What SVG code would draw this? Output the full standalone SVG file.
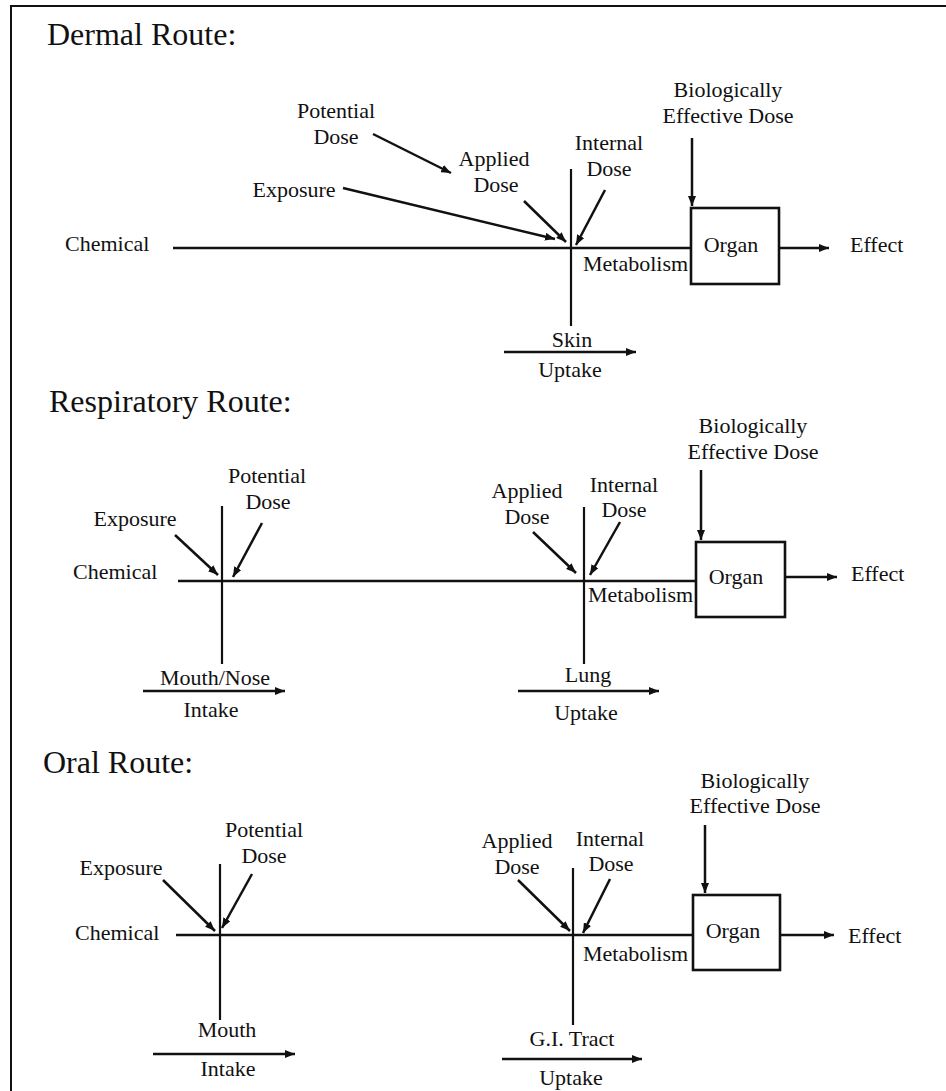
<svg xmlns="http://www.w3.org/2000/svg" width="946" height="1091" viewBox="0 0 946 1091">
<defs>
<style>
text{font-family:"Liberation Serif","Times New Roman",serif;font-size:22px;fill:#111}
.title{font-size:32px}
.m{text-anchor:middle}
.ln{stroke:#111;stroke-width:2.6;fill:none}
.thin{stroke:#111;stroke-width:2.2;fill:none}
.ar{stroke:#111;stroke-width:2.5;fill:none;marker-end:url(#ah)}
.box{stroke:#111;stroke-width:2.6;fill:#fff}
</style>
<marker id="ah" markerUnits="userSpaceOnUse" markerWidth="10" markerHeight="8" refX="10" refY="4" orient="auto">
<path d="M0,0 L10,4 L0,8 z" fill="#111"/>
</marker>
</defs>
<rect width="946" height="1091" fill="#fff"/>
<path d="M11,1091 V6 H946" stroke="#111" stroke-width="2" fill="none"/>

<!-- Dermal route -->
<g id="dermal">
<text id="d-title" class="title" x="47" y="45">Dermal Route:</text>
<g id="d-chemical"><text x="65" y="251">Chemical</text></g>
<g id="d-potential"><text class="m" x="336" y="118">Potential</text><text class="m" x="336" y="144">Dose</text></g>
<g id="d-exposure"><text class="m" x="294" y="197">Exposure</text></g>
<g id="d-applied"><text class="m" x="494" y="166">Applied</text><text class="m" x="496" y="192">Dose</text></g>
<g id="d-internal"><text class="m" x="609" y="150">Internal</text><text class="m" x="609" y="176">Dose</text></g>
<g id="d-bed"><text class="m" x="728" y="97">Biologically</text><text class="m" x="728" y="123">Effective Dose</text></g>
<g id="d-organ"><rect class="box" x="691" y="208" width="88" height="76"/><text class="m" x="731" y="252">Organ</text></g>
<g id="d-effect"><text x="850" y="252">Effect</text></g>
<g id="d-metabolism"><text x="583" y="271">Metabolism</text></g>
<g id="d-skin"><text class="m" x="572" y="347">Skin</text></g>
<g id="d-uptake"><text class="m" x="570" y="377">Uptake</text></g>
</g>

<!-- Respiratory route -->
<g id="respiratory">
<text id="r-title" class="title" x="49" y="412">Respiratory Route:</text>
<g id="r-chemical"><text x="73" y="579">Chemical</text></g>
<g id="r-exposure"><text class="m" x="135" y="526">Exposure</text></g>
<g id="r-potential"><text class="m" x="267" y="483">Potential</text><text class="m" x="268" y="509">Dose</text></g>
<g id="r-mouthnose"><text class="m" x="215" y="685">Mouth/Nose</text></g>
<g id="r-intake"><text class="m" x="211" y="717">Intake</text></g>
<g id="r-applied"><text class="m" x="527" y="498">Applied</text><text class="m" x="527" y="524">Dose</text></g>
<g id="r-internal"><text class="m" x="624" y="492">Internal</text><text class="m" x="624" y="517">Dose</text></g>
<g id="r-bed"><text class="m" x="753" y="433">Biologically</text><text class="m" x="753" y="459">Effective Dose</text></g>
<g id="r-organ"><rect class="box" x="696" y="542" width="89" height="75"/><text class="m" x="736" y="584">Organ</text></g>
<g id="r-effect"><text x="851" y="581">Effect</text></g>
<g id="r-metabolism"><text x="588" y="602">Metabolism</text></g>
<g id="r-lung"><text class="m" x="588" y="682">Lung</text></g>
<g id="r-uptake"><text class="m" x="586" y="720">Uptake</text></g>
</g>

<!-- Oral route -->
<g id="oral">
<text id="o-title" class="title" x="43" y="773">Oral Route:</text>
<g id="o-chemical"><text x="75" y="940">Chemical</text></g>
<g id="o-exposure"><text class="m" x="121" y="875">Exposure</text></g>
<g id="o-potential"><text class="m" x="264" y="837">Potential</text><text class="m" x="264" y="863">Dose</text></g>
<g id="o-mouth"><text class="m" x="227" y="1037">Mouth</text></g>
<g id="o-intake"><text class="m" x="228" y="1076">Intake</text></g>
<g id="o-applied"><text class="m" x="517" y="848">Applied</text><text class="m" x="517" y="874">Dose</text></g>
<g id="o-internal"><text class="m" x="610" y="846">Internal</text><text class="m" x="611" y="871">Dose</text></g>
<g id="o-bed"><text class="m" x="755" y="788">Biologically</text><text class="m" x="755" y="813">Effective Dose</text></g>
<g id="o-organ"><rect class="box" x="693" y="895" width="87" height="75"/><text class="m" x="733" y="938">Organ</text></g>
<g id="o-effect"><text x="848" y="943">Effect</text></g>
<g id="o-metabolism"><text x="583" y="961">Metabolism</text></g>
<g id="o-gitract"><text class="m" x="572" y="1046">G.I. Tract</text></g>
<g id="o-uptake"><text class="m" x="571" y="1085">Uptake</text></g>
</g>

<g id="connectors">
<!-- dermal -->
<path class="ln" d="M173,248 H691"/>
<path class="thin" d="M571,169 V326"/>
<path class="ar" d="M779,248 H829"/>
<path class="ar" d="M692,138 V206"/>
<path class="ar" d="M373,134 L451,173"/>
<path class="ar" d="M343,188 L555,239"/>
<path class="ar" d="M524,201 L566,242"/>
<path class="ar" d="M605,190 L576,245"/>
<path class="ar" d="M504,352 H636"/>
<!-- respiratory -->
<path class="ln" d="M178,581 H696"/>
<path class="thin" d="M222,506 V664"/>
<path class="thin" d="M584,507 V664"/>
<path class="ar" d="M175,535 L218,575"/>
<path class="ar" d="M262,523 L233,577"/>
<path class="ar" d="M143,691 H285"/>
<path class="ar" d="M533,532 L576,573"/>
<path class="ar" d="M620,522 L590,575"/>
<path class="ar" d="M518,691 H659"/>
<path class="ar" d="M701,470 V540"/>
<path class="ar" d="M785,577 H837"/>
<!-- oral -->
<path class="ln" d="M176,935 H693"/>
<path class="thin" d="M220,864 V1020"/>
<path class="thin" d="M573,868 V1025"/>
<path class="ar" d="M163,880 L215,931"/>
<path class="ar" d="M252,874 L222,928"/>
<path class="ar" d="M153,1054 H295"/>
<path class="ar" d="M518,880 L570,931"/>
<path class="ar" d="M610,879 L583,933"/>
<path class="ar" d="M502,1059 H642"/>
<path class="ar" d="M705,825 V893"/>
<path class="ar" d="M780,935 H834"/>
</g>
</svg>
